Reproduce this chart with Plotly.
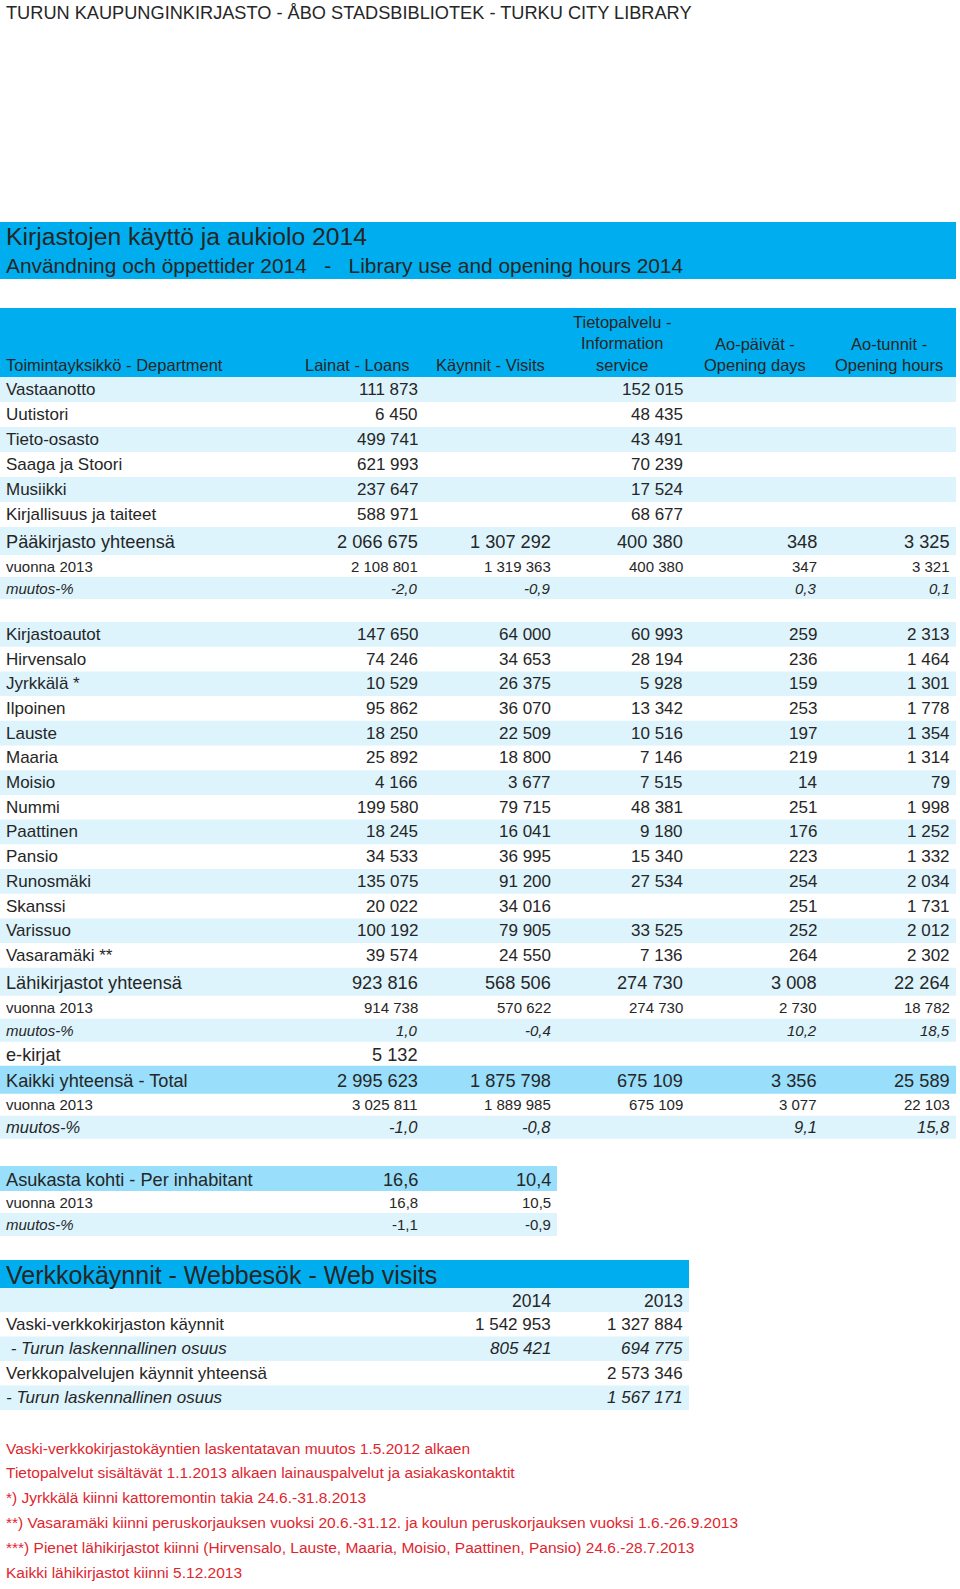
import plotly.graph_objects as go

# ---------------- data ----------------
page_title = "TURUN KAUPUNGINKIRJASTO - ÅBO STADSBIBLIOTEK - TURKU CITY LIBRARY"
title_line1 = "Kirjastojen käyttö ja aukiolo 2014"
title_line2 = "Användning och öppettider 2014   -   Library use and opening hours 2014"

header_labels = ["Toimintayksikkö - Department", "Lainat - Loans", "Käynnit - Visits",
                 "Tietopalvelu -<br>Information<br>service", "Ao-päivät -<br>Opening days",
                 "Ao-tunnit -<br>Opening hours"]

main_units = ["Vastaanotto", "Uutistori", "Tieto-osasto", "Saaga ja Stoori", "Musiikki",
              "Kirjallisuus ja taiteet"]
main_loans = [111873, 6450, 499741, 621993, 237647, 588971]
main_info = [152015, 48435, 43491, 70239, 17524, 68677]
main_total = [2066675, 1307292, 400380, 348, 3325]
main_2013 = [2108801, 1319363, 400380, 347, 3321]
main_change = [-2.0, -0.9, None, 0.3, 0.1]

branch_units = ["Kirjastoautot", "Hirvensalo", "Jyrkkälä *", "Ilpoinen", "Lauste", "Maaria",
                "Moisio", "Nummi", "Paattinen", "Pansio", "Runosmäki", "Skanssi", "Varissuo",
                "Vasaramäki **"]
branch_loans = [147650, 74246, 10529, 95862, 18250, 25892, 4166, 199580, 18245, 34533,
                135075, 20022, 100192, 39574]
branch_visits = [64000, 34653, 26375, 36070, 22509, 18800, 3677, 79715, 16041, 36995,
                 91200, 34016, 79905, 24550]
branch_info = [60993, 28194, 5928, 13342, 10516, 7146, 7515, 48381, 9180, 15340, 27534,
               None, 33525, 7136]
branch_days = [259, 236, 159, 253, 197, 219, 14, 251, 176, 223, 254, 251, 252, 264]
branch_hours = [2313, 1464, 1301, 1778, 1354, 1314, 79, 1998, 1252, 1332, 2034, 1731,
                2012, 2302]
branch_total = [923816, 568506, 274730, 3008, 22264]
branch_2013 = [914738, 570622, 274730, 2730, 18782]
branch_change = [1.0, -0.4, None, 10.2, 18.5]

ebooks_loans = [5132, None, None, None, None]

all_total = [2995623, 1875798, 675109, 3356, 25589]
all_2013 = [3025811, 1889985, 675109, 3077, 22103]
all_change = [-1.0, -0.8, None, 9.1, 15.8]

per_inhabitant = [16.6, 10.4]
per_inhabitant_2013 = [16.8, 10.5]
per_inhabitant_change = [-1.1, -0.9]

web_title = "Verkkokäynnit - Webbesök - Web visits"
web_years = ["2014", "2013"]
web_labels = ["Vaski-verkkokirjaston käynnit", " - Turun laskennallinen osuus",
              "Verkkopalvelujen käynnit yhteensä", "- Turun laskennallinen osuus"]
web_2014 = [1542953, 805421, None, None]
web_2013 = [1327884, 694775, 2573346, 1567171]

footnotes = [
    "Vaski-verkkokirjastokäyntien laskentatavan muutos 1.5.2012 alkaen",
    "Tietopalvelut sisältävät 1.1.2013 alkaen lainauspalvelut ja asiakaskontaktit",
    "*) Jyrkkälä kiinni kattoremontin takia 24.6.-31.8.2013",
    "**) Vasaramäki kiinni peruskorjauksen vuoksi 20.6.-31.12. ja koulun peruskorjauksen vuoksi 1.6.-26.9.2013",
    "***) Pienet lähikirjastot kiinni (Hirvensalo, Lauste, Maaria, Moisio, Paattinen, Pansio) 24.6.-28.7.2013",
    "Kaikki lähikirjastot kiinni 5.12.2013",
]

# ---------------- style ----------------
W, H = 960, 1589
BLUE = "#00AEEF"
MID = "#99DEFA"
LIGHT = "#DDF4FD"
RED = "#E0262F"
TXT = "#262626"
FONT = "Liberation Sans, Arial, sans-serif"

VAL_X = [420, 553, 685, 819, 952]          # right edges of the value columns
HEAD_X = [4, 357, 490, 622, 755, 889]      # header anchors
LX = 4                                     # left edge of row labels
FULL_W = 956

KINDS = {
    "normal": dict(size=17, italic=False),
    "total": dict(size=18.2, italic=False),
    "sub": dict(size=15, italic=False),
    "pct": dict(size=15, italic=True),
    "pctbig": dict(size=16.5, italic=True),
}

fig = go.Figure()
shapes = []
annotations = []


def fmt(v):
    if v is None:
        return ""
    if isinstance(v, float):
        return f"{v:.1f}".replace(".", ",")
    return f"{v:,}".replace(",", " ")


def text(x, y, s, size, anchor="left", italic=False, color=TXT, vanchor="middle"):
    if italic:
        s = f"<i>{s}</i>"
    annotations.append(dict(x=x, y=y, xref="x", yref="y", text=s, showarrow=False,
                            xanchor=anchor, yanchor=vanchor, align=anchor,
                            font=dict(family=FONT, size=size, color=color)))


def band(x0, y0, x1, y1, color):
    shapes.append(dict(type="rect", xref="x", yref="y", x0=x0, x1=x1, y0=y0, y1=y1,
                       fillcolor=color, line=dict(width=0), layer="below"))


cursor = [377]


def row(label, values, kind, fill, h, xs=VAL_X, band_right=FULL_W, value_kind=None,
        label_italic=None, values_italic=None):
    y0 = cursor[0]
    if fill:
        band(0, y0, band_right, y0 + h, fill)
    cy = y0 + h / 2 + (1 if kind == "total" else 0)
    k = KINDS[kind]
    li = k["italic"] if label_italic is None else label_italic
    text(LX, cy, label, k["size"], "left", li)
    vk = KINDS[value_kind or kind]
    vi = vk["italic"] if values_italic is None else values_italic
    for x, v in zip(xs, values):
        if v is not None:
            text(x, cy, fmt(v), vk["size"], "right", vi)
    cursor[0] = y0 + h


# page title
text(LX, 13, page_title, 18.2, "left")

# title band
band(0, 222, FULL_W, 279, BLUE)
text(LX, 236, title_line1, 24.7, "left")
text(LX, 265, title_line2, 20.9, "left")

# header band
band(0, 308, FULL_W, 377, BLUE)
text(HEAD_X[0], 376, header_labels[0], 16.5, "left", vanchor="bottom")
for hx, lab in zip(HEAD_X[1:], header_labels[1:]):
    text(hx, 376, lab, 16.5, "center", vanchor="bottom")

# main library
for i, name in enumerate(main_units):
    row(name, [main_loans[i], None, main_info[i], None, None], "normal",
        LIGHT if i % 2 == 0 else None, 25)
row("Pääkirjasto yhteensä", main_total, "total", LIGHT, 28)
row("vuonna 2013", main_2013, "sub", None, 22)
row("muutos-%", main_change, "pct", LIGHT, 22)
cursor[0] += 23

# branch libraries
for i, name in enumerate(branch_units):
    row(name, [branch_loans[i], branch_visits[i], branch_info[i], branch_days[i],
               branch_hours[i]], "normal", LIGHT if i % 2 == 0 else None, 24.7)
row("Lähikirjastot yhteensä", branch_total, "total", LIGHT, 28)
row("vuonna 2013", branch_2013, "sub", None, 23)
row("muutos-%", branch_change, "pct", LIGHT, 23)
row("e-kirjat", ebooks_loans, "total", None, 24)
row("Kaikki yhteensä - Total", all_total, "total", MID, 28)
row("vuonna 2013", all_2013, "sub", None, 22)
row("muutos-%", all_change, "pctbig", LIGHT, 23)

# per inhabitant
cursor[0] = 1166
row("Asukasta kohti - Per inhabitant", per_inhabitant, "total", MID, 25,
    xs=VAL_X[:2], band_right=557)
row("vuonna 2013", per_inhabitant_2013, "sub", None, 22, xs=VAL_X[:2], band_right=557)
row("muutos-%", per_inhabitant_change, "pct", LIGHT, 23, xs=VAL_X[:2], band_right=557,
    values_italic=False)

# web visits
band(0, 1260, 689, 1288, BLUE)
text(LX, 1275, web_title, 25, "left")
band(0, 1288, 689, 1312, LIGHT)
for x, yr in zip(VAL_X[1:3], web_years):
    text(x, 1301, yr, 17.5, "right")
cursor[0] = 1312
for i, lab in enumerate(web_labels):
    share = (i % 2 == 1)
    row(lab, [web_2014[i], web_2013[i]], "normal", LIGHT if share else None, 24.5,
        xs=VAL_X[1:3], band_right=689, label_italic=share, values_italic=share)

# footnotes
for i, note in enumerate(footnotes):
    text(LX, 1448 + i * 24.9, note, 15.5, "left", color=RED)

fig.update_layout(
    width=W, height=H, autosize=False,
    margin=dict(l=0, r=0, t=0, b=0, pad=0),
    paper_bgcolor="white", plot_bgcolor="white",
    xaxis=dict(range=[0, W], visible=False, fixedrange=True),
    yaxis=dict(range=[H, 0], visible=False, fixedrange=True),
    shapes=shapes, annotations=annotations, showlegend=False,
)

fig.write_html("out.html", config={"displayModeBar": False},
               post_script="document.body.style.margin='0';document.body.style.overflow='hidden';")
